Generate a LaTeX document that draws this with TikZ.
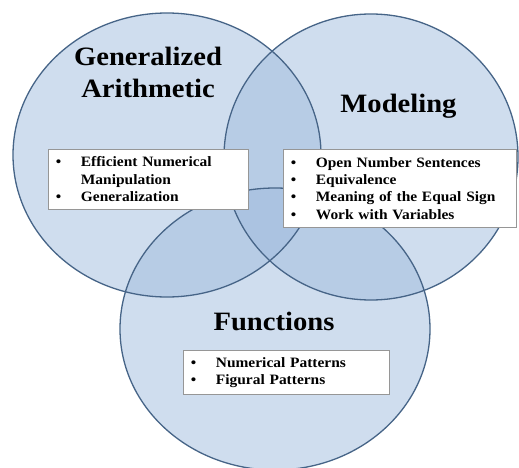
\documentclass[tikz,border=0pt]{standalone}
\usepackage{fontspec}
\setmainfont{Liberation Serif}[FakeStretch=1.08]
\usetikzlibrary{positioning}

\definecolor{vennfill}{RGB}{160,188,222}
\definecolor{vennline}{RGB}{70,100,135}
\definecolor{boxline}{RGB}{150,150,150}

\newcommand{\bul}{\makebox[25pt][l]{\textbullet}}
\newcommand{\ind}{\hspace*{25pt}}

\begin{document}
\begin{tikzpicture}[x=1pt,y=-1pt,
    venn/.style={fill=vennfill,fill opacity=0.5},
    rim/.style={draw=vennline,line width=1.3pt},
    title/.style={font=\fontsize{26.5}{32.3}\selectfont\bfseries,align=center,anchor=base},
    listbox/.style={draw=boxline,fill=white,line width=0.8pt,anchor=north west,
        inner xsep=7.5pt,inner ysep=0pt,align=left,
        font=\fontsize{14.3}{17.4}\selectfont\bfseries}]
    \useasboundingbox[fill=white] (0,0) rectangle (519,468);

    % the three sets
    \fill[venn] (167,155) ellipse [x radius=154, y radius=142];
    \fill[venn] (371,157) ellipse [x radius=147, y radius=143];
    \fill[venn] (275,329) ellipse [x radius=155, y radius=141];
    \draw[rim] (167,155) ellipse [x radius=154, y radius=142];
    \draw[rim] (371,157) ellipse [x radius=147, y radius=143];
    \draw[rim] (275,329) ellipse [x radius=155, y radius=141];

    \node[title] (arith) at (148,98) {Generalized\\Arithmetic};
    \node[title] (model) at (398.5,113) {Modeling};
    \node[title] (funct) at (274,330) {Functions};

    \node[listbox,text width=185pt,minimum height=60pt] (arithbox) at (48,149)
        {\bul Efficient Numerical\\\ind Manipulation\\\bul Generalization};
    \node[listbox,text width=218pt,minimum height=78pt] (modelbox) at (283,149)
        {\bul Open Number Sentences\\\bul Equivalence\\\bul Meaning of the Equal Sign\\\bul Work with Variables};
    \node[listbox,text width=191pt,minimum height=44pt] (functbox) at (183,350)
        {\bul Numerical Patterns\\\bul Figural Patterns};
\end{tikzpicture}
\end{document}
